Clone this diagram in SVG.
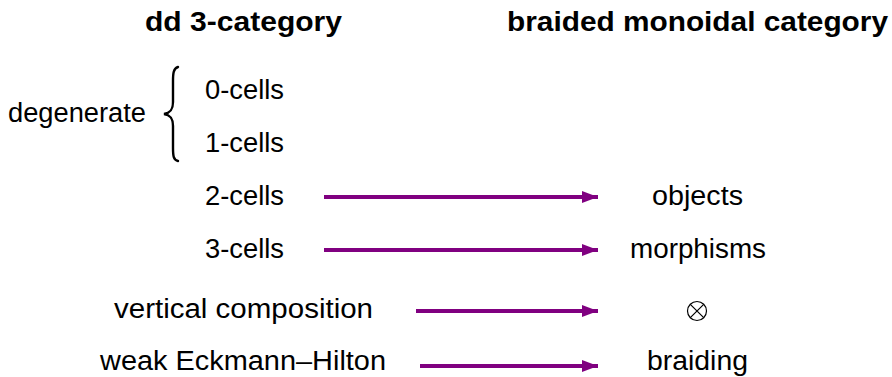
<svg xmlns="http://www.w3.org/2000/svg" width="892" height="377" viewBox="0 0 892 377">
  <defs>
    <marker id="head" viewBox="0 0 16 12" refX="16" refY="6" markerWidth="16" markerHeight="12" markerUnits="userSpaceOnUse" orient="auto">
      <path d="M0,0 L16,6 L0,12 Z" fill="#800080"/>
    </marker>
  </defs>
  <style>
    text { font-family: "Liberation Sans", Arial, sans-serif; font-size: 27px; fill: #000; }
    .title { font-weight: bold; }
    .arrow { stroke: #800080; stroke-width: 4; fill: none; marker-end: url(#head); }
    .brace { stroke: #000; stroke-width: 2.4; fill: none; stroke-linecap: round; }
  </style>
  <rect width="892" height="377" fill="#fff"/>

  <!-- column headings -->
  <g id="head-left"><text class="title" x="145" y="31" textLength="197" lengthAdjust="spacingAndGlyphs">dd 3-category</text></g>
  <g id="head-right"><text class="title" x="507" y="31" textLength="381" lengthAdjust="spacingAndGlyphs">braided monoidal category</text></g>

  <!-- degenerate cells -->
  <g id="degenerate">
    <text x="8" y="122" textLength="138" lengthAdjust="spacingAndGlyphs">degenerate</text>
    <path class="brace" d="M178,67 C173.5,68.5 173,73 173,81 L173,102 C173,110 170,113 164,114 C170,115 173,118 173,126 L173,148 C173,156 173.5,160 178,161"/>
  </g>
  <g id="cells0"><text x="205" y="99" textLength="79" lengthAdjust="spacingAndGlyphs">0-cells</text></g>
  <g id="cells1"><text x="205" y="152" textLength="79" lengthAdjust="spacingAndGlyphs">1-cells</text></g>

  <!-- source column -->
  <g id="cells2"><text x="205" y="205" textLength="79" lengthAdjust="spacingAndGlyphs">2-cells</text></g>
  <g id="cells3"><text x="205" y="258" textLength="79" lengthAdjust="spacingAndGlyphs">3-cells</text></g>
  <g id="vcomp"><text x="114" y="318" textLength="259" lengthAdjust="spacingAndGlyphs">vertical composition</text></g>
  <g id="eh"><text x="100" y="370" textLength="286" lengthAdjust="spacingAndGlyphs">weak Eckmann–Hilton</text></g>

  <!-- target column -->
  <g id="objects"><text x="652" y="205" textLength="91" lengthAdjust="spacingAndGlyphs">objects</text></g>
  <g id="morphisms"><text x="630" y="258" textLength="136" lengthAdjust="spacingAndGlyphs">morphisms</text></g>
  <g id="tensor">
    <circle cx="697" cy="311" r="9.5" fill="none" stroke="#000" stroke-width="1.2"/>
    <path d="M690.3,304.3 L703.7,317.7 M703.7,304.3 L690.3,317.7" stroke="#000" stroke-width="1.2"/>
  </g>
  <g id="braiding"><text x="647" y="370" textLength="101" lengthAdjust="spacingAndGlyphs">braiding</text></g>

  <!-- correspondences -->
  <g id="connectors">
    <line class="arrow" x1="324" y1="197" x2="598" y2="197"/>
    <line class="arrow" x1="324" y1="250" x2="598" y2="250"/>
    <line class="arrow" x1="416" y1="311" x2="598" y2="311"/>
    <line class="arrow" x1="420" y1="366" x2="598" y2="366"/>
  </g>
</svg>
